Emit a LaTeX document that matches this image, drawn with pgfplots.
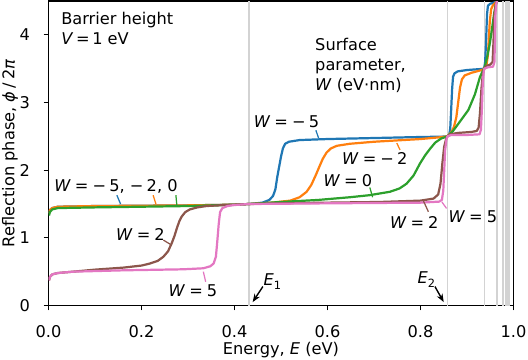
\documentclass[border=0pt]{standalone}
\usepackage{fontspec}
\setmainfont{DejaVu Sans}
\usepackage{pgfplots}
\pgfplotsset{compat=1.18}
\usetikzlibrary{arrows.meta}
\definecolor{tabblue}{HTML}{1F77B4}
\definecolor{taborange}{HTML}{FF7F0E}
\definecolor{tabgreen}{HTML}{2CA02C}
\definecolor{tabbrown}{HTML}{8C564B}
\definecolor{tabpink}{HTML}{E377C2}
\definecolor{lgray}{HTML}{D3D3D3}
\newcommand{\fs}{\fontsize{11.7}{14}\selectfont}
\newcommand{\W}{\textit{W}\hspace{0.25em}=\hspace{0.25em}}
\newcommand{\mn}{−\hspace{0.2em}}
\begin{document}
\begin{tikzpicture}
\begin{axis}[
  at={(0,0)}, anchor=south west,
  scale only axis, width=4.65in, height=3.045in,
  xmin=0, xmax=1, ymin=0, ymax=4.5,
  xtick={0,0.2,0.4,0.6,0.8,1}, xticklabels={0.0,0.2,0.4,0.6,0.8,1.0},
  ytick={0,1,2,3,4}, yticklabels={0,1,2,3,4},
  xtick pos=bottom, ytick pos=left, tick align=outside,
  major tick length=3.5pt,
  every tick/.style={black, line width=0.8pt},
  axis line style={black, line width=0.8pt},
  tick label style={font=\fs},
  /pgf/number format/assume math mode=true,
  xticklabel style={anchor=north, inner sep=0pt, yshift=-0.145in},
  yticklabel style={anchor=east, inner sep=0pt, xshift=-0.135in},
  xlabel={Energy, \textit{E} (eV)},
  ylabel={Reflection phase, \textit{ϕ}\hspace{0.2em}/\hspace{0.2em}2\textit{π}},
  label style={font=\fs},
  xlabel style={at={(axis description cs:0.5,0)}, anchor=base, inner sep=0pt, yshift=-0.49in},
  ylabel style={at={(axis description cs:0,0.5)}, anchor=base, inner sep=0pt, yshift=0.34in},
  clip=true,
]
% vertical lines at E_n
\addplot[lgray, line width=1pt, forget plot] coordinates {(0.431,0) (0.431,4.5)};
\addplot[lgray, line width=1pt, forget plot] coordinates {(0.858,0) (0.858,4.5)};
\addplot[lgray, line width=1pt, forget plot] coordinates {(0.937,0) (0.937,4.5)};
\addplot[lgray, line width=1pt, forget plot] coordinates {(0.9644,0) (0.9644,4.5)};
\addplot[lgray, line width=1pt, forget plot] coordinates {(0.9772,0) (0.9772,4.5)};
\addplot[lgray, line width=1pt, forget plot] coordinates {(0.9842,0) (0.9842,4.5)};
\addplot[lgray, line width=1pt, forget plot] coordinates {(0.9884,0) (0.9884,4.5)};
\addplot[lgray, line width=1pt, forget plot] coordinates {(0.9911,0) (0.9911,4.5)};
% W = -5
\addplot[tabblue, line width=1.6pt, line join=round] coordinates {
(0.001,1.36)(0.003,1.41)(0.008,1.44)(0.02,1.46)(0.1,1.47)(0.2,1.475)(0.3,1.48)(0.4,1.49)(0.431,1.5)(0.46,1.52)(0.475,1.56)(0.483,1.62)(0.488,1.72)(0.492,1.9)(0.496,2.05)(0.5,2.2)(0.504,2.32)(0.509,2.39)(0.517,2.42)(0.54,2.445)(0.6,2.46)(0.7,2.475)(0.8,2.49)(0.845,2.495)(0.858,2.5)(0.862,2.53)(0.864,2.62)(0.866,2.9)(0.868,3.2)(0.870,3.38)(0.873,3.43)(0.88,3.46)(0.9,3.48)(0.93,3.495)(0.937,3.5)(0.939,3.6)(0.941,3.9)(0.943,4.3)(0.945,4.43)(0.95,4.46)(0.96,4.48)(0.9644,4.5)(0.97,4.6)};
% W = -2
\addplot[taborange, line width=1.6pt, line join=round] coordinates {
(0.001,1.36)(0.003,1.41)(0.008,1.44)(0.02,1.46)(0.1,1.47)(0.2,1.475)(0.3,1.48)(0.4,1.49)(0.431,1.5)(0.48,1.52)(0.52,1.55)(0.54,1.60)(0.555,1.68)(0.565,1.78)(0.575,1.93)(0.583,2.06)(0.59,2.17)(0.598,2.26)(0.607,2.32)(0.62,2.36)(0.648,2.39)(0.7,2.42)(0.75,2.44)(0.8,2.46)(0.84,2.485)(0.858,2.5)(0.866,2.56)(0.872,2.64)(0.877,2.78)(0.881,3.0)(0.885,3.22)(0.889,3.34)(0.895,3.40)(0.91,3.44)(0.932,3.48)(0.937,3.5)(0.942,3.56)(0.945,3.7)(0.947,3.95)(0.949,4.2)(0.952,4.38)(0.956,4.44)(0.962,4.48)(0.9644,4.5)(0.97,4.6)};
% W = 0
\addplot[tabgreen, line width=1.6pt, line join=round] coordinates {
(0.001,1.33)(0.003,1.38)(0.008,1.42)(0.02,1.44)(0.1,1.45)(0.2,1.46)(0.3,1.47)(0.4,1.49)(0.431,1.5)(0.5,1.53)(0.58,1.56)(0.648,1.60)(0.69,1.63)(0.734,1.68)(0.755,1.73)(0.77,1.80)(0.785,1.92)(0.799,2.10)(0.81,2.22)(0.821,2.32)(0.832,2.41)(0.845,2.47)(0.858,2.5)(0.87,2.58)(0.885,2.72)(0.903,2.89)(0.917,3.12)(0.928,3.38)(0.935,3.48)(0.937,3.5)(0.943,3.66)(0.949,3.87)(0.954,4.1)(0.958,4.3)(0.961,4.42)(0.9644,4.5)(0.97,4.6)};
% W = 2
\addplot[tabbrown, line width=1.6pt, line join=round] coordinates {
(0.001,0.37)(0.003,0.42)(0.008,0.46)(0.02,0.48)(0.053,0.50)(0.1,0.53)(0.161,0.56)(0.2,0.59)(0.218,0.62)(0.235,0.66)(0.247,0.72)(0.257,0.80)(0.265,0.92)(0.271,1.03)(0.276,1.14)(0.281,1.24)(0.286,1.31)(0.294,1.38)(0.304,1.42)(0.32,1.45)(0.34,1.47)(0.38,1.485)(0.431,1.5)(0.5,1.51)(0.6,1.52)(0.713,1.53)(0.8,1.55)(0.828,1.58)(0.838,1.64)(0.843,1.8)(0.847,2.1)(0.851,2.35)(0.855,2.46)(0.858,2.5)(0.864,2.53)(0.88,2.55)(0.91,2.565)(0.921,2.58)(0.925,2.63)(0.928,2.85)(0.931,3.2)(0.934,3.42)(0.937,3.5)(0.941,3.54)(0.95,3.56)(0.955,3.6)(0.957,3.9)(0.959,4.3)(0.962,4.46)(0.9644,4.5)(0.97,4.6)};
% W = 5
\addplot[tabpink, line width=1.6pt, line join=round] coordinates {
(0.001,0.37)(0.003,0.42)(0.008,0.46)(0.02,0.48)(0.053,0.50)(0.161,0.52)(0.29,0.535)(0.333,0.55)(0.348,0.58)(0.355,0.62)(0.36,0.72)(0.363,0.95)(0.366,1.2)(0.369,1.38)(0.374,1.44)(0.385,1.47)(0.4,1.485)(0.431,1.5)(0.6,1.51)(0.8,1.52)(0.84,1.535)(0.846,1.56)(0.849,1.7)(0.851,2.0)(0.853,2.3)(0.856,2.46)(0.858,2.5)(0.866,2.52)(0.9,2.52)(0.927,2.53)(0.93,2.6)(0.932,2.9)(0.934,3.3)(0.936,3.46)(0.937,3.5)(0.945,3.52)(0.956,3.53)(0.959,3.6)(0.960,3.9)(0.961,4.3)(0.963,4.46)(0.9644,4.5)(0.97,4.6)};
% text
\node[anchor=base west, inner sep=0pt, font=\fs] at (axis cs:0.027,4.158) {Barrier height};
\node[anchor=base west, inner sep=0pt, font=\fs] at (axis cs:0.027,3.863) {\textit{V}\,=\,1 eV};
\node[anchor=base west, inner sep=0pt, font=\fs] at (axis cs:0.573,3.77) {Surface};
\node[anchor=base west, inner sep=0pt, font=\fs] at (axis cs:0.573,3.48) {parameter,};
\node[anchor=base west, inner sep=0pt, font=\fs] at (axis cs:0.573,3.18) {\textit{W} (eV·nm)};
% labels with leaders
\node[anchor=base west, inner sep=0pt, font=\fs] at (axis cs:0.441,2.63) {\W\mn5};
\draw[tabblue, line width=0.9pt] (axis cs:0.575,2.59) -- (axis cs:0.581,2.47);
\node[anchor=base west, inner sep=0pt, font=\fs] at (axis cs:0.631,2.08) {\W\mn2};
\draw[taborange, line width=0.9pt] (axis cs:0.749,2.40) -- (axis cs:0.756,2.30);
\node[anchor=base west, inner sep=0pt, font=\fs] at (axis cs:0.591,1.76) {\W0};
\draw[tabgreen, line width=0.9pt] (axis cs:0.691,1.745) -- (axis cs:0.697,1.60);
\node[anchor=base west, inner sep=0pt, font=\fs] at (axis cs:0.012,1.685) {\W\mn5, \mn2, 0};
\draw[tabblue, line width=0.9pt] (axis cs:0.147,1.63) -- (axis cs:0.155,1.50);
\draw[taborange, line width=0.9pt] (axis cs:0.225,1.63) -- (axis cs:0.231,1.50);
\draw[tabgreen, line width=0.9pt] (axis cs:0.274,1.63) -- (axis cs:0.276,1.48);
\node[anchor=base west, inner sep=0pt, font=\fs] at (axis cs:0.145,0.967) {\W2};
\draw[tabbrown, line width=0.9pt] (axis cs:0.247,0.967) -- (axis cs:0.263,0.90);
\node[anchor=base west, inner sep=0pt, font=\fs] at (axis cs:0.258,0.133) {\W5};
\draw[tabpink, line width=0.9pt] (axis cs:0.333,0.50) -- (axis cs:0.338,0.35);
\node[anchor=base west, inner sep=0pt, font=\fs] at (axis cs:0.734,1.14) {\W2};
\draw[tabbrown, line width=0.9pt] (axis cs:0.806,1.55) -- (axis cs:0.817,1.385);
\node[anchor=base west, inner sep=0pt, font=\fs] at (axis cs:0.860,1.22) {\W5};
\draw[tabpink, line width=0.9pt] (axis cs:0.846,1.53) -- (axis cs:0.856,1.435);
% E1, E2 arrows
\node[anchor=base west, inner sep=0pt, font=\fs] at (axis cs:0.462,0.30) {\textit{E}\raisebox{-0.25em}{\fontsize{8.2}{10}\selectfont 1}};
\draw[black, line width=1pt, -{Stealth[length=6pt,width=4.5pt]}] (axis cs:0.461,0.28) -- (axis cs:0.439,0.05);
\node[anchor=base east, inner sep=0pt, font=\fs] at (axis cs:0.832,0.33) {\textit{E}\raisebox{-0.25em}{\fontsize{8.2}{10}\selectfont 2}};
\draw[black, line width=1pt, -{Stealth[length=6pt,width=4.5pt]}] (axis cs:0.831,0.28) -- (axis cs:0.850,0.05);
\end{axis}
\pgfresetboundingbox
\useasboundingbox (-0.485in,-0.545in) rectangle (4.795in,3.055in);
\end{tikzpicture}
\end{document}
